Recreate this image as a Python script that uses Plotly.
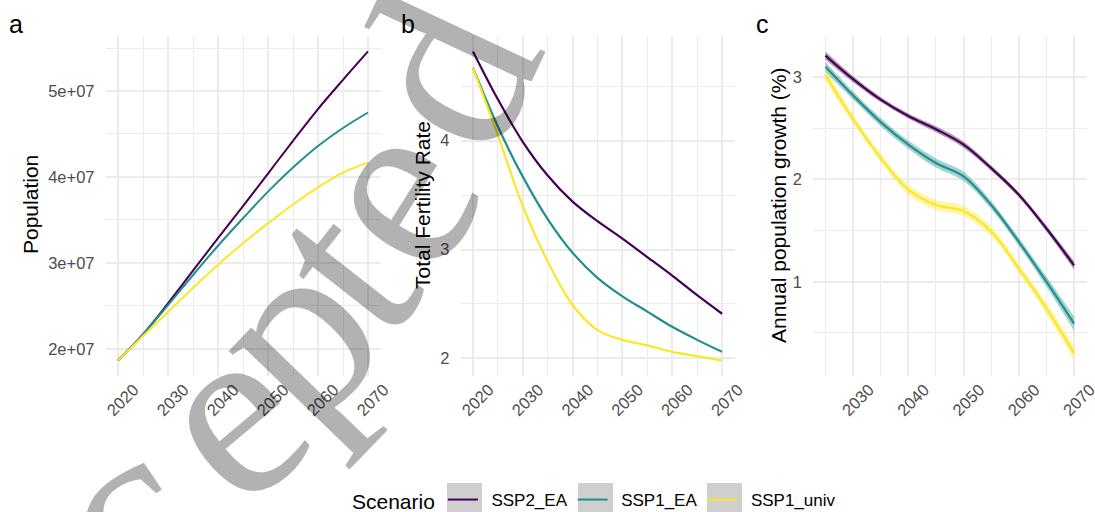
import math
import plotly.graph_objects as go

# ---------------- data ----------------
scenarios = ["SSP2_EA", "SSP1_EA", "SSP1_univ"]
colors = ["#440154", "#21908C", "#FDE725"]

years_ab = [2020, 2025, 2030, 2035, 2040, 2045, 2050, 2055, 2060, 2065, 2070]
pop_ssp2_ea = [1.865e7, 2.17e7, 2.53e7, 2.91e7, 3.29e7, 3.66e7, 4.04e7, 4.42e7, 4.79e7, 5.13e7, 5.46e7]
pop_ssp1_ea = [1.865e7, 2.17e7, 2.51e7, 2.86e7, 3.20e7, 3.52e7, 3.83e7, 4.11e7, 4.36e7, 4.57e7, 4.75e7]
pop_ssp1_univ = [1.865e7, 2.15e7, 2.43e7, 2.71e7, 2.98e7, 3.23e7, 3.46e7, 3.68e7, 3.88e7, 4.05e7, 4.17e7]

tfr_ssp2_ea = [4.82, 4.38, 3.99, 3.68, 3.44, 3.26, 3.10, 2.93, 2.76, 2.58, 2.41]
tfr_ssp1_ea = [4.67, 4.13, 3.67, 3.28, 2.97, 2.74, 2.57, 2.43, 2.29, 2.17, 2.06]
tfr_ssp1_univ = [4.67, 4.05, 3.40, 2.89, 2.49, 2.26, 2.17, 2.12, 2.06, 2.02, 1.98]

years_c = [2025, 2030, 2035, 2040, 2045, 2050, 2055, 2060, 2065, 2070]
gr_ssp2_ea = [3.21, 2.98, 2.78, 2.62, 2.49, 2.34, 2.11, 1.85, 1.52, 1.16]
gr_ssp1_ea = [3.10, 2.82, 2.56, 2.34, 2.16, 2.03, 1.75, 1.39, 1.00, 0.59]
gr_ssp1_univ = [3.02, 2.59, 2.21, 1.90, 1.75, 1.69, 1.49, 1.13, 0.74, 0.30]
se_ssp2_ea = [0.04, 0.03, 0.025, 0.025, 0.03, 0.03, 0.025, 0.025, 0.03, 0.04]
se_ssp1_ea = [0.05, 0.04, 0.04, 0.04, 0.045, 0.045, 0.04, 0.04, 0.05, 0.07]
se_ssp1_univ = [0.06, 0.045, 0.045, 0.045, 0.05, 0.05, 0.045, 0.045, 0.055, 0.07]

a_yticks = [2e7, 3e7, 4e7, 5e7]
a_yticktext = ["2e+07", "3e+07", "4e+07", "5e+07"]
year_ticks = [2020, 2030, 2040, 2050, 2060, 2070]
panel_tags = ["a", "b", "c"]
y_titles = ["Population", "Total Fertility Rate", "Annual population growth (%)"]
legend_title = "Scenario"
watermark = "Accepted"

# ---------------- layout helpers ----------------
W, H = 1095, 520   # window shows the top 512 px; the legend keys run off the bottom edge
SANS = "Liberation Sans, Arial, sans-serif"
GRID = "#ebebeb"
TICKC = "#4d4d4d"
KEY_PAD = "\u2002"  # visual gap between legend key and label


def px(x):
    return x / W


def py(y):
    return 1 - y / H


def padded(vals, f=0.05):
    lo, hi = min(vals), max(vals)
    s = hi - lo
    return [lo - f * s, hi + f * s]


def rgba(hexc, a):
    h = hexc.lstrip("#")
    return "rgba(%d,%d,%d,%.2f)" % (int(h[0:2], 16), int(h[2:4], 16), int(h[4:6], 16), a)


fig = go.Figure()

pop = [pop_ssp2_ea, pop_ssp1_ea, pop_ssp1_univ]
tfr = [tfr_ssp2_ea, tfr_ssp1_ea, tfr_ssp1_univ]
gr = [gr_ssp2_ea, gr_ssp1_ea, gr_ssp1_univ]
se = [se_ssp2_ea, se_ssp1_ea, se_ssp1_univ]

for i, name in enumerate(scenarios):
    fig.add_trace(go.Scatter(x=years_ab, y=pop[i], mode="lines", name=KEY_PAD + name,
                             line=dict(color=colors[i], width=2, shape="spline"),
                             xaxis="x", yaxis="y", legendgroup=name, showlegend=True))
for i, name in enumerate(scenarios):
    fig.add_trace(go.Scatter(x=years_ab, y=tfr[i], mode="lines", name=name,
                             line=dict(color=colors[i], width=2.2, shape="spline"),
                             xaxis="x2", yaxis="y2", legendgroup=name, showlegend=False))
for i, name in enumerate(scenarios):
    up = [v + s for v, s in zip(gr[i], se[i])]
    lo = [v - s for v, s in zip(gr[i], se[i])]
    fig.add_trace(go.Scatter(x=years_c, y=up, mode="lines", line=dict(width=0, shape="spline"),
                             xaxis="x3", yaxis="y3", showlegend=False, hoverinfo="skip"))
    fig.add_trace(go.Scatter(x=years_c, y=lo, mode="lines", line=dict(width=0, shape="spline"),
                             fill="tonexty", fillcolor=rgba(colors[i], 0.4),
                             xaxis="x3", yaxis="y3", showlegend=False, hoverinfo="skip"))
for i, name in enumerate(scenarios):
    fig.add_trace(go.Scatter(x=years_c, y=gr[i], mode="lines", name=name,
                             line=dict(color=colors[i], width=2.2, shape="spline"),
                             xaxis="x3", yaxis="y3", legendgroup=name, showlegend=False))

xdomains = [[px(105.5), px(380.5)], [px(460.5), px(734.5)], [px(813), px(1086.5)]]
ydomain = [py(376), py(36)]

c_all = []
for i in range(3):
    c_all += [v + s for v, s in zip(gr[i], se[i])] + [v - s for v, s in zip(gr[i], se[i])]

xranges = [padded(years_ab), padded(years_ab), padded(years_c)]
yranges = [padded(sum(pop, [])), padded(sum(tfr, [])), padded(c_all)]


def xaxis(i):
    return dict(domain=xdomains[i], range=xranges[i], anchor="y" if i == 0 else "y%d" % (i + 1),
                tickmode="array", tickvals=year_ticks, ticktext=[str(t) for t in year_ticks],
                tickangle=-45, tickfont=dict(family=SANS, size=16.5, color=TICKC),
                ticks="", showline=False, zeroline=False,
                showgrid=True, gridcolor=GRID, gridwidth=1.8,
                minor=dict(dtick=5, tick0=2015, showgrid=True, gridcolor=GRID, gridwidth=1.1),
                ticklabelstandoff=0, ticklabelshift=16, ticklabeloverflow="allow",
                automargin=False, fixedrange=True)


def yaxis(i, **kw):
    d = dict(domain=ydomain, range=yranges[i], anchor="x" if i == 0 else "x%d" % (i + 1),
             tickfont=dict(family=SANS, size=16.5, color=TICKC),
             ticks="", showline=False, zeroline=False,
             showgrid=True, gridcolor=GRID, gridwidth=1.8,
             ticklabelstandoff=10, ticklabeloverflow="allow", automargin=False, fixedrange=True)
    d.update(kw)
    return d


annotations = []
title_x = [31, 423, 779]
tag_x = [16, 408, 762]
for i in range(3):
    annotations.append(dict(text=y_titles[i], x=px(title_x[i]), y=py(205), xref="paper", yref="paper",
                            textangle=-90, showarrow=False, xanchor="center", yanchor="middle",
                            font=dict(family=SANS, size=21, color="black")))
    annotations.append(dict(text=panel_tags[i], x=px(tag_x[i]), y=py(24), xref="paper", yref="paper",
                            showarrow=False, xanchor="center", yanchor="middle",
                            font=dict(family=SANS, size=25, color="black")))

# watermark letters along an arc (x-height centre in px, rotation in deg)
wm_pts = [(-120, 760, 24), (-10, 665, 29), (138, 535, 34), (244, 434, 40),
          (310, 350, 46), (361, 283, 52), (412, 205, 58), (467, 82, 65)]
WM_SIZE = 252
for ch, (x0, y0, phi) in zip(watermark, wm_pts):
    r = math.radians(phi)
    ux, uy = -math.sin(r), -math.cos(r)
    cx, cy = x0 + 27 * ux, y0 + 27 * uy
    annotations.append(dict(text=ch, x=px(cx), y=py(cy), xref="paper", yref="paper",
                            textangle=-phi, showarrow=False, xanchor="center", yanchor="middle",
                            font=dict(family="Liberation Serif, Times New Roman, serif",
                                      size=WM_SIZE, color="rgba(0,0,0,0.30)")))

# grey legend key backgrounds
key_left = [447, 578, 707]
shapes = [dict(type="rect", xref="paper", yref="paper", x0=px(k), x1=px(k + 35),
               y0=py(518), y1=py(483), fillcolor="#cfcfcf", line=dict(width=0), layer="above")
          for k in key_left]

fig.update_layout(
    width=W, height=H, template="none",
    paper_bgcolor="white", plot_bgcolor="white",
    margin=dict(l=0, r=0, t=0, b=0),
    font=dict(family=SANS),
    xaxis=xaxis(0), xaxis2=xaxis(1), xaxis3=xaxis(2),
    yaxis=yaxis(0, tickmode="array", tickvals=a_yticks, ticktext=a_yticktext,
                minor=dict(dtick=5e6, tick0=0, showgrid=True, gridcolor=GRID, gridwidth=1.1)),
    yaxis2=yaxis(1, tickmode="linear", dtick=1, tick0=0,
                 minor=dict(dtick=0.5, tick0=0, showgrid=True, gridcolor=GRID, gridwidth=1.1)),
    yaxis3=yaxis(2, tickmode="linear", dtick=1, tick0=0,
                 minor=dict(dtick=0.5, tick0=0, showgrid=True, gridcolor=GRID, gridwidth=1.1)),
    legend=dict(orientation="h", x=px(350), xanchor="left", y=py(501), yanchor="middle",
                bgcolor="rgba(0,0,0,0)", itemwidth=30,
                title=dict(text=legend_title, font=dict(family=SANS, size=21, color="black")),
                font=dict(family=SANS, size=17, color="black")),
    annotations=annotations,
    shapes=shapes,
    showlegend=True,
)

fig.write_html("out.html", config={"displayModeBar": False},
               post_script="document.body.style.margin='0';document.body.style.overflow='hidden';")
